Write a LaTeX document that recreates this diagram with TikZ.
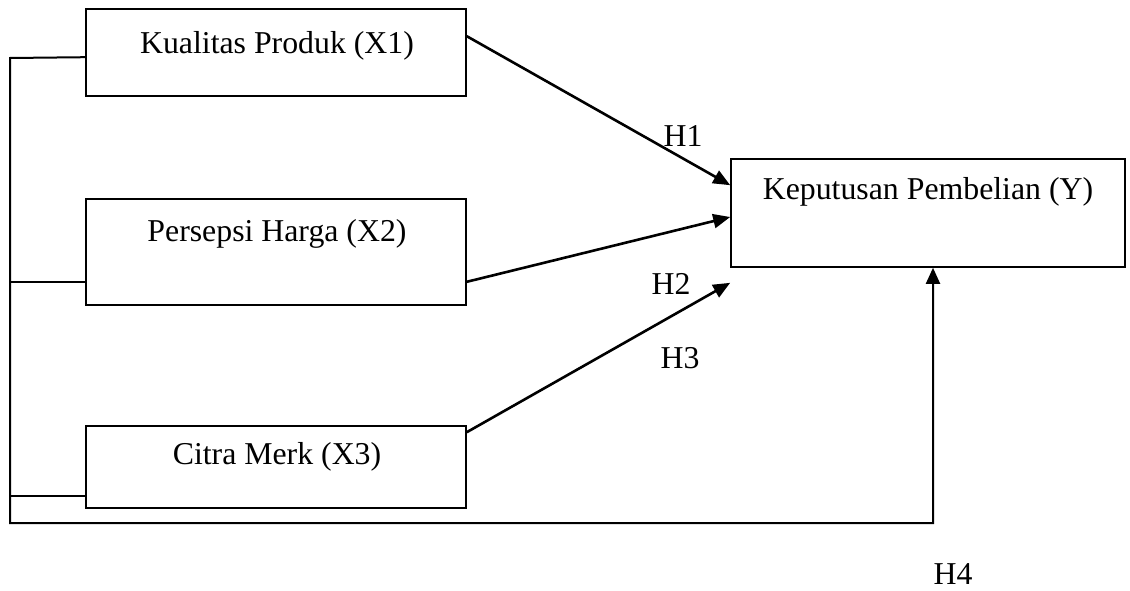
\documentclass[tikz,border=0pt]{standalone}
\usepackage{fontspec}
\setmainfont{Liberation Serif}
\usetikzlibrary{arrows.meta}
\begin{document}
\begin{tikzpicture}[x=1pt,y=-1pt,
  box/.style={draw,line width=1.6pt,inner sep=0pt,minimum width=380pt},
  lbl/.style={anchor=base,inner sep=0pt,font=\fontsize{31.8}{38}\selectfont},
  link/.style={line width=1.8pt},
  conn/.style={line width=2.6pt,-{Triangle[length=17pt,width=14pt]}},
  uconn/.style={line width=2pt,-{Triangle[length=16pt,width=14pt]}}]
\useasboundingbox (0,0) rectangle (1130,591);
% boxes
\node[box,minimum height=87pt] (x1) at (276,52.5) {};
\node[box,minimum height=106pt] (x2) at (276,252) {};
\node[box,minimum height=82pt] (x3) at (276,467) {};
\node[box,minimum width=394pt,minimum height=108pt] (y) at (928,213) {};
% texts
\node[lbl] (t1) at (277,54) {Kualitas Produk (X1)};
\node[lbl] (t2) at (277,241) {Persepsi Harga (X2)};
\node[lbl] (t3) at (277,464) {Citra Merk (X3)};
\node[lbl] (ty) at (928,199) {Keputusan Pembelian (Y)};
\node[lbl] (h1) at (683,147) {H1};
\node[lbl] (h2) at (671,294) {H2};
\node[lbl] (h3) at (680,368) {H3};
\node[lbl,text depth=0pt] (h4) at (953,584) {H4};
% arrows
\draw[conn] ([yshift=-28pt]x1.north east) -- ([yshift=-27pt]y.north west);
\draw[conn] ([yshift=24pt]x2.south east) -- ([yshift=-4pt]y.west);
\draw[conn] ([yshift=-7pt]x3.north east) -- ([yshift=-15pt]y.south west);
% bracket
\coordinate (tl) at (10,58);
\coordinate (bl) at (10,523);
\coordinate (cr) at (933,523);
\draw[link] ([yshift=24pt]x2.south west) -- ++(-76,0);
\draw[link] ([yshift=13pt]x3.south west) -- ++(-76,0);
\draw[uconn] ([yshift=-49pt]x1.north west) -- (tl) -- (bl) -- (cr) -- (cr |- y.south);
\end{tikzpicture}
\end{document}
